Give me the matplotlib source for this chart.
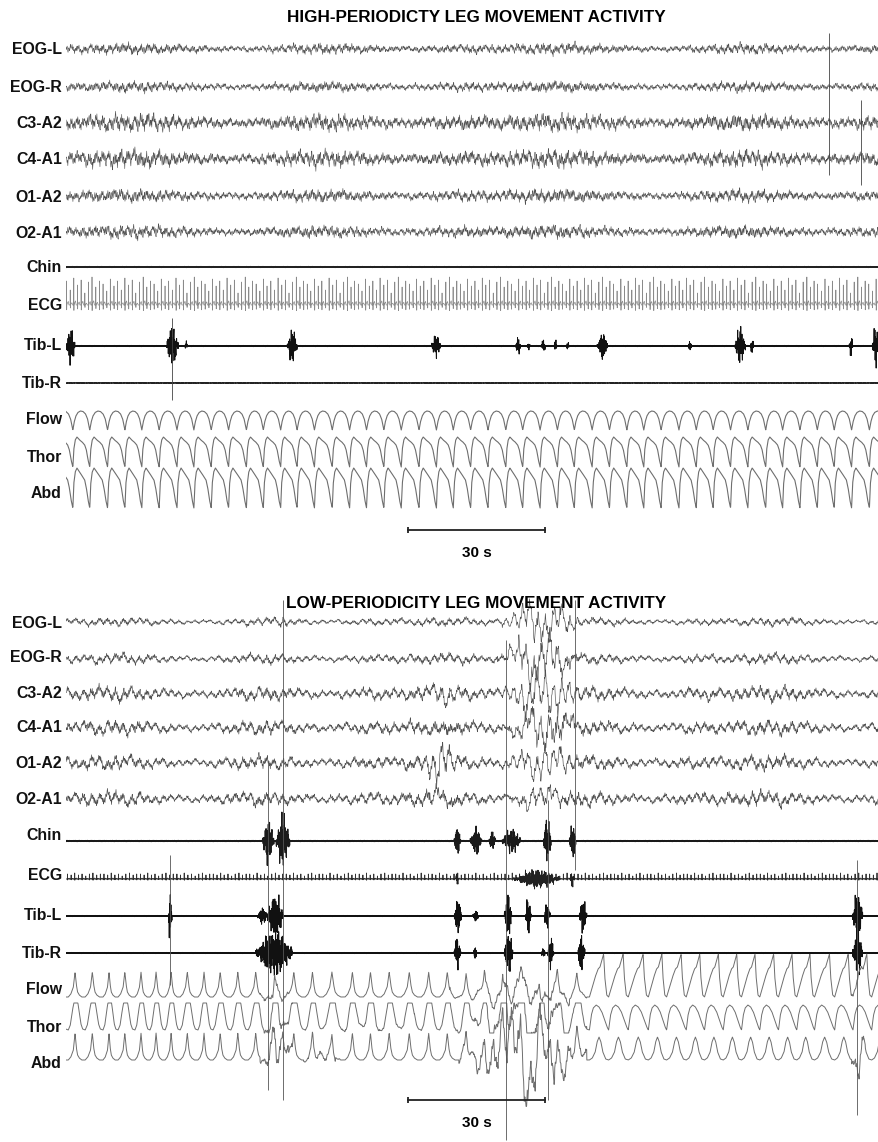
import numpy as np
import matplotlib.pyplot as plt

plt.rcParams['font.family'] = ['Liberation Sans', 'DejaVu Sans']

# ---------------------------------------------------------------- data
T_END = 178.0          # seconds shown per panel (30 s bar = 137 px)
N = 4000
t = np.linspace(0, T_END, N)

CHANNELS = ['EOG-L', 'EOG-R', 'C3-A2', 'C4-A1', 'O1-A2', 'O2-A1',
            'Chin', 'ECG', 'Tib-L', 'Tib-R', 'Flow', 'Thor', 'Abd']
TITLE_TOP = 'HIGH-PERIODICTY LEG MOVEMENT ACTIVITY'
TITLE_BOT = 'LOW-PERIODICITY LEG MOVEMENT ACTIVITY'
SCALE_LABEL = '30 s'
SCALE_BAR = [74.9, 104.9]

# wiggle snippets (px)
EEG_FAST = [3, -2, 5, -4, 1, 6, -3, -6, 2, 4, -1, -5, 3, 7, -2, -4, 0, 5, -6, 2, 4,
            -3, 1, -7, 3, 5, -1, -2, 6, -5, 0, 3, -4, 2, 7, -3, -5, 1, 4, -2, 3, -6,
            5, 0, -3, 2, 6, -4, -1, 3, -5, 4, 1, -2, 5, -3, -6, 2, 0, 4, -1]
EEG_MID = [2, 5, 7, 4, 0, -4, -7, -5, -1, 3, 6, 5, 1, -3, -6, -4, 0, 4, 8, 6, 2, -2,
           -5, -7, -3, 1, 5, 4, 0, -3, -5, -2, 2, 6, 7, 3, -1, -6, -8, -4, 0, 3, 5, 2,
           -2, -4, -1]
EEG_SLOW = [0, 3, 6, 8, 7, 4, 0, -3, -6, -8, -6, -2, 2, 5, 6, 3, -1, -4, -7, -5, -2, 1, 2]
TAPER = [0.2, 0.45, 0.8, 1.0, 1.0, 0.85, 0.55, 0.25]

# ECG beat template (s after R, px up)
ECG_T = [0, 0.025, 0.05, 0.08, 0.25, 0.4, 0.55]
ECG_V = [0, 1.0, -0.2, 0, 0.1, 0.15, 0.0]
RR = [0.80, 0.78, 0.82, 0.79, 0.81, 0.80, 0.77, 0.83, 0.80, 0.79, 0.81, 0.78]
ECG_H_TOP = [24, 15, 27, 20, 25, 12, 23, 28, 18, 24, 21, 14, 26, 19]
ECG_H_BOT = [5, 4, 6, 4, 5, 3, 5, 6, 4, 5]

# ---- high periodicity panel
EEG_AMP_TOP = [5, 5, 8, 8, 6, 6]
TIBL_TOP = [(0.0, 2.0, 14), (22.0, 24.6, 17), (26.0, 26.6, 4), (48.4, 50.6, 13),
            (80.0, 82.0, 11), (98.5, 99.5, 8), (101.0, 101.6, 3), (104.0, 105.0, 5),
            (106.8, 107.5, 5), (109.5, 110.2, 3), (116.3, 118.6, 11), (136.2, 137.0, 4),
            (146.4, 148.8, 15), (149.8, 150.6, 6), (171.5, 172.3, 9), (176.5, 178.0, 16)]
SPIKES_TOP = [(23.2, 318, 400), (167.0, 33, 175), (174.0, 100, 185)]
BREATH_START_TOP = -2.3
BREATHS_TOP = [3.8, 3.7, 3.9, 3.8, 3.7, 3.8, 3.9, 3.7, 3.8, 3.8, 3.9, 3.7, 3.8, 3.6,
               3.8, 3.9, 3.8, 3.7, 3.8, 3.8, 3.9, 3.8, 3.7, 3.8, 3.8, 3.9, 3.7, 3.8,
               3.8, 3.7, 3.9, 3.8, 3.8, 3.7, 3.8, 3.9, 3.8, 3.7, 3.8, 3.8, 3.9, 3.7,
               3.8, 3.8, 3.7, 3.8, 3.9, 3.8]
FLOW_TOP = ([0, .08, .18, .3, .45, .6, .75, .87, .95, 1], [0, 8, 14, 17.5, 19, 18.5, 16, 11, 4, 0])
THOR_TOP = ([0, .06, .14, .24, .4, .55, .7, .8, .9, 1], [0, 18, 27, 30, 27, 25, 22, 17, 7, 0])
ABD_TOP = ([0, .06, .14, .24, .4, .55, .7, .8, .9, 1], [0, 25, 36, 40, 36, 32, 28, 20, 8, 0])

# ---- low periodicity panel
EEG_AMP_BOT = [4, 5, 7, 7, 7, 7]
EEG_ART_BOT = [[(95.5, 112.5, 18), (46.8, 48.2, 6)],
               [(94.5, 113.0, 24)],
               [(95.5, 112.5, 20), (79.0, 86.0, 5)],
               [(95.5, 113.5, 22), (79.0, 86.0, 5)],
               [(95.5, 112.5, 13), (77.5, 85.7, 16)],
               [(95.5, 112.5, 13), (77.5, 85.7, 9)]]
CHIN_BOT = [(43.0, 45.5, 12), (46.0, 49.0, 16), (85.0, 86.4, 9), (88.5, 91.0, 8),
            (92.6, 94.0, 6), (95.5, 99.5, 7), (104.5, 106.2, 15), (110.2, 111.6, 12)]
ECG_NOISE_BOT = [(85.3, 85.9, 5), (98.0, 108.0, 6), (110.3, 111.3, 5)]
TIBL_BOT = [(22.4, 23.2, 14), (42.0, 44.0, 6), (44.0, 47.5, 13), (85.0, 86.6, 12),
            (89.0, 90.3, 4), (96.0, 97.6, 14), (100.6, 101.8, 11), (104.7, 106.0, 9),
            (112.4, 114.0, 12), (172.2, 174.4, 16)]
TIBR_BOT = [(41.5, 49.5, 14), (85.0, 86.4, 11), (89.2, 90.0, 4), (96.0, 97.8, 14),
            (104.0, 105.0, 3), (105.5, 106.8, 10), (112.0, 113.6, 13), (172.2, 174.4, 15)]
SPIKES_BOT = [(22.8, 855, 985), (44.2, 760, 1090), (47.5, 600, 1100), (96.3, 640, 1140),
              (105.5, 800, 1100), (111.5, 600, 870), (173.2, 860, 1115)]
ONSETS_BOT = [-3.2, 0.5, 4.2, 8.1, 11.4, 15.1, 18.4, 21.7, 25.0, 28.9, 32.2, 36.1, 39.9,
              44.0, 48.2, 52.4, 56.3, 61.1, 65.1, 69.0, 73.4, 77.8, 81.8, 86.0, 90.0,
              94.0, 98.0, 102.0, 106.0, 110.0, 114.6, 118.8, 123.1, 127.5, 131.5, 135.8,
              139.8, 143.9, 147.9, 151.9, 156.0, 160.0, 163.9, 168.3, 172.3, 176.4, 180.5]
REGIME_SWITCH = 114.0
FLOW_BOT = (([0, .15, .3, .4, .48, .55, .65, .8, 1], [0, 3, 10, 25, 12, 5, 2, 0, 0]),
            ([0, .15, .3, .45, .55, .65, .74, .8, .9, 1], [0, 10, 20, 28, 30, 37, 43, 20, 2, 0]))
THOR_BOT = (([0, .12, .25, .35, .55, .65, .75, .85, 1], [0, 5, 20, 29, 29, 18, 6, 1, 0]),
            ([0, .1, .2, .35, .5, .65, .8, .92, 1], [0, 15, 22, 25, 23, 18, 10, 3, 0]))
ABD_BOT = (([0, .15, .3, .4, .48, .55, .65, .8, 1], [0, 3, 10, 27, 12, 5, 2, 0, 0]),
           ([0, .15, .3, .4, .5, .6, .7, .85, 1], [0, 2, 8, 18, 23, 18, 8, 1, 0]))
FLOW_ART_BOT = [(42.5, 49.5, 10), (84.0, 114.0, 12), (172.0, 175.0, 8)]
THOR_ART_BOT = [(42.5, 49.5, 14), (50.0, 80.0, 4), (84.0, 114.0, 20)]
ABD_ART_BOT = [(42.5, 49.5, 26), (52.0, 60.0, 8), (86.0, 114.0, 40), (172.0, 175.0, 26)]

# ---------------------------------------------------------------- layout (px from top)
ROWS_TOP = [49, 87, 123, 159, 196, 232, 267, 305, 346, 383, 430, 467, 508]
LABELS_TOP = [50, 87, 123, 159, 197, 233, 267, 305, 346, 383, 420, 457, 494]
ROWS_BOT = [622, 659, 694, 728, 763, 799, 841, 879, 916, 953, 997, 1030, 1060]
LABELS_BOT = [623, 657, 693, 728, 763, 800, 836, 875, 916, 953, 990, 1027, 1064]
GAIN_TOP = 1.6
GAIN_BOT = 2.2


def wiggle(snippet, shift, stride):
    i = np.arange(N) + shift
    v = np.asarray(snippet, float)[(i // stride) % len(snippet)]
    if stride > 1:
        v = np.convolve(v, np.ones(stride) / stride, mode='same')
    return v


def texture(shift, wa, wb, wc, sa=1, sb=2, sc=6):
    v = (wa * wiggle(EEG_FAST, shift, sa) + wb * wiggle(EEG_MID, 3 * shift, sb)
         + wc * wiggle(EEG_SLOW, 7 * shift, sc))
    return v / (2.5 * v.std())


def envelope(bursts):
    env = np.zeros(N)
    taper = np.asarray(TAPER)
    for t0, t1, g in bursts:
        m = (t >= t0) & (t < t1)
        k = ((t[m] - t0) / (t1 - t0) * len(taper)).astype(int)
        env[m] += g * taper[k]
    return env


def breathing(onsets, shapes, switch=1e9):
    tt, vv = [], []
    for o0, o1 in zip(onsets[:-1], onsets[1:]):
        ph, val = shapes[0] if o0 < switch else shapes[1]
        tt.extend(o0 + (o1 - o0) * np.asarray(ph[:-1]))
        vv.extend(val[:-1])
    return np.interp(t, tt, vv)


def ecg(heights, start):
    tt, vv = [], []
    tb, j = start, 0
    while tb < T_END + 1:
        tt.extend(tb + np.asarray(ECG_T))
        vv.extend(heights[j % len(heights)] * np.asarray(ECG_V))
        tb += RR[j % len(RR)]
        j += 1
    return np.asarray(tt), np.asarray(vv)


fig = plt.figure(figsize=(8.79, 11.42), dpi=100)
ax1 = fig.add_axes([66 / 879, 1 - 575 / 1142, 813 / 879, 575 / 1142])
ax2 = fig.add_axes([66 / 879, 0, 813 / 879, 567 / 1142])
ax1.set_ylim(575, 0)
ax2.set_ylim(1142, 575)

EEG_C = '#505050'
RESP_C = '#6e6e6e'

# ---------------------------------------------------------------- high periodicity
ax = ax1
for k in range(6):
    tex = texture(11 * k + 5, 1.0, 0.7, 0.35, sa=2, sb=4, sc=12)
    mod = 1 + 0.35 * wiggle(EEG_SLOW, 5 * k, 90) / 8
    ax.plot(t, ROWS_TOP[k] - EEG_AMP_TOP[k] * tex * mod, color=EEG_C, lw=0.4)
ax.plot(t, ROWS_TOP[6] - 0.8 * texture(41, 1, 0, 0), color='#222', lw=0.8)
et, ev = ecg(ECG_H_TOP, 0.1)
ax.plot(et, ROWS_TOP[7] - ev, color='#8a8a8a', lw=0.5)
tib = GAIN_TOP * envelope(TIBL_TOP) * texture(3, 1, 0.3, 0) + 0.9 * texture(17, 1, 0, 0)
ax.plot(t, ROWS_TOP[8] - tib, color='#111', lw=0.7)
ax.plot(t, ROWS_TOP[9] - 0.5 * texture(23, 1, 0, 0), color='#222', lw=0.7)
onsets_top = BREATH_START_TOP + np.concatenate([[0], np.cumsum(BREATHS_TOP)])
for shape, row in zip([FLOW_TOP, THOR_TOP, ABD_TOP], ROWS_TOP[10:]):
    ax.plot(t, row - breathing(onsets_top, (shape, shape)), color=RESP_C, lw=0.8)
for ts, y0, y1 in SPIKES_TOP:
    ax.vlines(ts, y0, y1, color='#444', lw=0.6)

# ---------------------------------------------------------------- low periodicity
ax = ax2
for k in range(6):
    tex = texture(13 * k + 2, 0.8, 1.0, 0.6, sa=2, sb=5, sc=14)
    mod = 1 + 0.4 * wiggle(EEG_SLOW, 9 * k + 3, 70) / 8
    art = 1.5 * envelope(EEG_ART_BOT[k]) * texture(7 * k + 1, 0.5, 1.0, 0.7, sa=3, sb=5, sc=16)
    ax.plot(t, ROWS_BOT[k] - EEG_AMP_BOT[k] * tex * mod - art, color=EEG_C, lw=0.45)
chin = GAIN_BOT * envelope(CHIN_BOT) * texture(9, 1, 0.3, 0) + 0.9 * texture(29, 1, 0, 0)
ax.plot(t, ROWS_BOT[6] - chin, color='#1a1a1a', lw=0.8)
et, ev = ecg(ECG_H_BOT, 0.3)
ax.plot(et, ROWS_BOT[7] - ev, color='#333', lw=0.6)
ecg_noise = GAIN_BOT * envelope(ECG_NOISE_BOT) * texture(31, 1, 0.4, 0)
ax.plot(t, ROWS_BOT[7] - ecg_noise, color='#222', lw=0.6)
for bursts, row, sh in [(TIBL_BOT, ROWS_BOT[8], 3), (TIBR_BOT, ROWS_BOT[9], 19)]:
    tib = GAIN_BOT * envelope(bursts) * texture(sh, 1, 0.3, 0) + 0.8 * texture(sh + 50, 1, 0, 0)
    ax.plot(t, row - tib, color='#111', lw=0.75)
resp = [(FLOW_BOT, FLOW_ART_BOT, 4), (THOR_BOT, THOR_ART_BOT, 8), (ABD_BOT, ABD_ART_BOT, 12)]
for (shapes, arts, sh), row in zip(resp, ROWS_BOT[10:]):
    y = breathing(ONSETS_BOT, shapes, REGIME_SWITCH)
    y = y + 1.5 * envelope(arts) * texture(sh, 0.3, 0.8, 1.0, sa=3, sb=6, sc=16)
    if shapes is THOR_BOT:
        y = np.clip(y, -3, 27)
    ax.plot(t, row - y, color=RESP_C, lw=0.7)
for ts, y0, y1 in SPIKES_BOT:
    ax.vlines(ts, y0, y1, color='#555', lw=0.6)

# ---------------------------------------------------------------- text & scale bars
for ax, rows, title, ty, by in [(ax1, LABELS_TOP, TITLE_TOP, 18, 530),
                                (ax2, LABELS_BOT, TITLE_BOT, 603, 1100)]:
    ax.set_xlim(0, T_END)
    ax.axis('off')
    for name, ly in zip(CHANNELS, rows):
        ax.text(-0.9, ly, name, ha='right', va='center', fontsize=11.4,
                fontweight='bold', color='#111', clip_on=False)
    ax.text(89.8, ty, title, ha='center', va='center', fontsize=12.3, fontweight='bold')
    ax.plot(SCALE_BAR, [by, by], color='#222', lw=1.3)
    ax.vlines(SCALE_BAR, by - 3, by + 3, color='#222', lw=1.3)
    ax.text(sum(SCALE_BAR) / 2, by + 23, SCALE_LABEL, ha='center', va='center',
            fontsize=11, fontweight='bold')

fig.savefig('out.png', dpi=100)
